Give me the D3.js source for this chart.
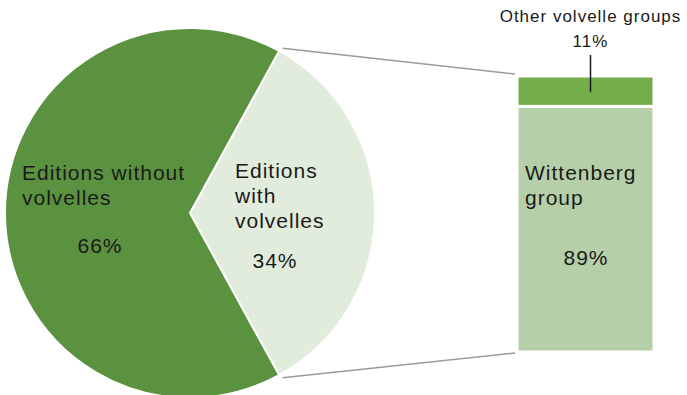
<!DOCTYPE html>
<html>
<head>
<meta charset="utf-8">
<script src="https://cdn.jsdelivr.net/npm/d3@7"></script>
<style>
  body { margin: 0; background: #fff; }
  text { font-family: "Liberation Sans", Arial, sans-serif; fill: #1a1a1a; }
</style>
</head>
<body>
<div id="chart"></div>
<script>
const width = 687, height = 395;

// data
const pieLabels = [["Editions", "with", "volvelles"], ["Editions without", "volvelles"]];
const pieValues = [34, 66];
const barLabels = [["Wittenberg", "group"], ["Other volvelle groups"]];
const barValues = [89, 11];

const pieColors = ["#e1ecdc", "#5b9240"];
const barColors = ["#b5d0a8", "#74ad4c"];

const svg = d3.select("#chart")
    .append("svg")
    .attr("width", width)
    .attr("height", height);

// pie
const cx = 190, cy = 213, r = 185;
const total = d3.sum(pieValues);
const start = Math.PI / 2 - Math.PI * pieValues[0] / total;

const pie = d3.pie().sort(null).startAngle(start).endAngle(start + 2 * Math.PI);
const arcs = pie(pieValues);
const arc = d3.arc().innerRadius(0).outerRadius(r);

const pg = svg.append("g").attr("transform", `translate(${cx},${cy})`);
pg.selectAll("path")
    .data(arcs)
    .enter()
    .append("path")
    .attr("d", arc)
    .attr("fill", (d, i) => pieColors[i])
    .attr("stroke", "#fff")
    .attr("stroke-width", 2);

// bar (stacked, 100%)
const barX = 517, barW = 137;
const y = d3.scaleLinear().domain([0, 100]).range([352, 76]);
const stacked = [];
let acc = 0;
barValues.forEach((v, i) => { stacked.push({ y0: acc, y1: acc + v, i }); acc += v; });

svg.selectAll(".bar")
    .data(stacked)
    .enter()
    .append("rect")
    .attr("class", "bar")
    .attr("x", barX)
    .attr("width", barW)
    .attr("y", d => y(d.y1))
    .attr("height", d => y(d.y0) - y(d.y1))
    .attr("fill", d => barColors[d.i])
    .attr("stroke", "#fff")
    .attr("stroke-width", 3);

// connector lines from pie slice edges to bar corners
const a0 = arcs[0].startAngle, a1 = arcs[0].endAngle;
const edge = a => [cx + (r + 3) * Math.sin(a), cy - (r + 3) * Math.cos(a)];
const p0 = edge(a0), p1 = edge(a1);
svg.append("line")
    .attr("x1", p0[0] + 2).attr("y1", p0[1])
    .attr("x2", barX - 2).attr("y2", y(100) - 2)
    .attr("stroke", "#9a9a9a").attr("stroke-width", 1.5);
svg.append("line")
    .attr("x1", p1[0] + 2).attr("y1", p1[1])
    .attr("x2", barX - 2).attr("y2", y(0) + 1)
    .attr("stroke", "#9a9a9a").attr("stroke-width", 1.5);

// pie labels
const fs = 21;
function label(x, yy, txt, anchor, size) {
    return svg.append("text")
        .attr("x", x).attr("y", yy)
        .attr("text-anchor", anchor || "start")
        .style("font-size", (size || fs) + "px")
        .style("letter-spacing", "1px")
        .text(txt);
}
function multiLine(x, yTop, lines) {
    const t = svg.append("text")
        .attr("x", x).attr("y", yTop)
        .style("font-size", fs + "px")
        .style("letter-spacing", "1px");
    lines.forEach((l, i) => {
        t.append("tspan").attr("x", x).attr("dy", i === 0 ? 0 : 25).text(l);
    });
}
multiLine(22, 180, pieLabels[1]);
label(100, 253, pieValues[1] + "%", "middle");

multiLine(235, 178, pieLabels[0]);
label(275, 268, pieValues[0] + "%", "middle");

// bar labels
multiLine(525, 180, barLabels[0]);
label(586, 265, barValues[0] + "%", "middle");

const cxBar = barX + barW / 2 + 5;
label(cxBar, 22, barLabels[1][0], "middle", 17);
label(cxBar, 47, barValues[1] + "%", "middle", 17);
svg.append("line")
    .attr("x1", cxBar).attr("x2", cxBar)
    .attr("y1", 55).attr("y2", y(100 - barValues[1] / 2) + 1)
    .attr("stroke", "#1a1a1a").attr("stroke-width", 1.5);
</script>
</body>
</html>
